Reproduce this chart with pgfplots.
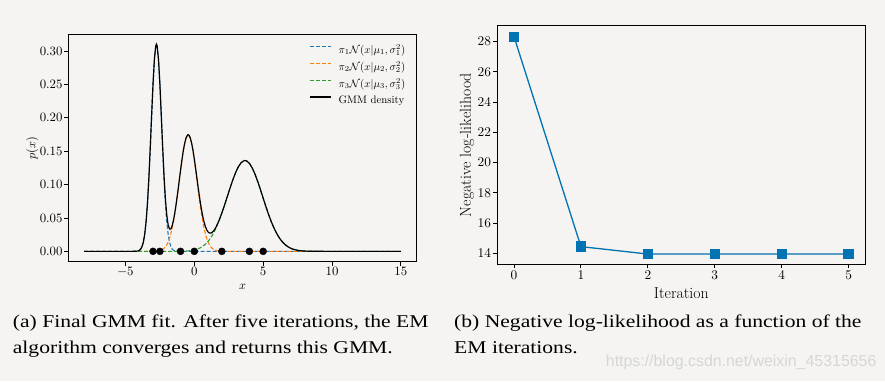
\documentclass[border=0pt]{standalone}
\usepackage{pgfplots}
\pgfplotsset{compat=1.18}
\usepackage{fontspec}
\newfontfamily\capfont[FakeStretch=1.2]{Liberation Serif}
\newfontfamily\wmfont{Liberation Sans}
\definecolor{bg}{RGB}{245,244,242}
\definecolor{cA}{HTML}{1F77B4}
\definecolor{cB}{HTML}{FF7F0E}
\definecolor{cC}{HTML}{2CA02C}
\definecolor{nll}{HTML}{0173B2}
\definecolor{wm}{RGB}{214,214,214}
\begin{document}
\begin{tikzpicture}[x=1pt,y=1pt]
\fill[bg] (0,0) rectangle (885,381);
\useasboundingbox (0,0) rectangle (885,381);
% ---------- left panel ----------
\begin{axis}[
  at={(68.3pt,119.3pt)}, anchor=south west,
  scale only axis, width=348.4pt, height=227.7pt,
  xmin=-9.15, xmax=16.15, ymin=-0.0155, ymax=0.3255,
  xtick={-5,0,5,10,15},
  ytick={0,0.05,0.1,0.15,0.2,0.25,0.3},
  yticklabel style={/pgf/number format/.cd,fixed,fixed zerofill,precision=2},
  scaled y ticks=false,
  tick align=outside, tick pos=left, major tick length=4pt,
  every tick/.style={black,line width=0.9pt},
  axis line style={line width=1pt},
  ticklabel style={font=\fontsize{10}{12}\selectfont, scale=1.28, inner sep=1.2pt},
  label style={font=\fontsize{10}{12}\selectfont, scale=1.22},
  xlabel={$x$}, ylabel={$p(x)$},
  xlabel style={at={(axis description cs:0.5,-0.1098)},anchor=center},
  ylabel style={at={(axis description cs:-0.1033,0.5)},anchor=center},
  legend cell align=left,
  legend style={at={(rel axis cs:0.6917,0.955)}, anchor=north west, draw=none, fill=none,
    inner sep=0pt, row sep=6.6pt, column sep=7pt,
    font=\fontsize{10}{12}\selectfont,
    nodes={inner sep=0pt, scale=1.08}},
  legend image code/.code={\draw[#1] (0pt,3pt) -- (21pt,3pt);},
]
\addplot[cA, line width=1.1pt, dash pattern=on 4pt off 2pt] coordinates {
(-8,0) (-4.5,0) (-4.4,0.00003) (-4.3,0.00008) (-4.2,0.00022) (-4.1,0.00058) (-4.0,0.00142)
(-3.9,0.00324) (-3.8,0.00692) (-3.7,0.0138) (-3.6,0.0257) (-3.5,0.0446) (-3.4,0.0722)
(-3.3,0.1092) (-3.2,0.1542) (-3.1,0.2032) (-3.0,0.2499) (-2.9,0.2869) (-2.8,0.3073)
(-2.75,0.31) (-2.7,0.3073) (-2.6,0.2869) (-2.5,0.2499) (-2.4,0.2032) (-2.3,0.1542)
(-2.2,0.1092) (-2.1,0.0722) (-2.0,0.0446) (-1.9,0.0257) (-1.8,0.0138) (-1.7,0.00692)
(-1.6,0.00324) (-1.5,0.00142) (-1.4,0.00058) (-1.3,0.00022) (-1.2,0.00008) (-1.1,0.00003)
(-1.0,0) (15,0)};
\addlegendentry{$\pi_1\mathcal{N}(x|\mu_1,\sigma_1^2)$}
\addplot[cB, line width=1.1pt, dash pattern=on 4pt off 2pt] coordinates {
(-8,0) (-3.2,0) (-3.1,0.00004) (-3.0,0.00007) (-2.9,0.00013) (-2.8,0.00023) (-2.7,0.0004)
(-2.6,0.00068) (-2.5,0.00113) (-2.4,0.00182) (-2.3,0.00287) (-2.2,0.00442) (-2.1,0.00665)
(-2.0,0.00976) (-1.9,0.01398) (-1.8,0.01957) (-1.7,0.02672) (-1.6,0.03563) (-1.5,0.04639)
(-1.4,0.05896) (-1.3,0.07317) (-1.2,0.08864) (-1.1,0.10484) (-1.0,0.12107) (-0.9,0.13649)
(-0.8,0.15023) (-0.7,0.16144) (-0.6,0.16937) (-0.5,0.17348) (-0.45,0.174) (-0.4,0.17348)
(-0.3,0.16937) (-0.2,0.16144) (-0.1,0.15023) (0.0,0.13649) (0.1,0.12107) (0.2,0.10484)
(0.3,0.08864) (0.4,0.07317) (0.5,0.05896) (0.6,0.04639) (0.7,0.03563) (0.8,0.02672)
(0.9,0.01957) (1.0,0.01398) (1.1,0.00976) (1.2,0.00665) (1.3,0.00442) (1.4,0.00287)
(1.5,0.00182) (1.6,0.00113) (1.7,0.00068) (1.8,0.0004) (1.9,0.00023) (2.0,0.00013)
(2.1,0.00007) (2.2,0.00004) (2.3,0) (15,0)};
\addlegendentry{$\pi_2\mathcal{N}(x|\mu_2,\sigma_2^2)$}
\addplot[cC, line width=1.1pt, dash pattern=on 4pt off 2pt] coordinates {
(-8,0) (-2.0,0) (-1.5,0.00004) (-1.0,0.00016) (-0.5,0.00064) (-0.4,0.00082) (-0.3,0.00105)
(-0.2,0.00134) (-0.1,0.0017) (0.0,0.00213) (0.1,0.00267) (0.2,0.00331) (0.3,0.00409)
(0.4,0.00502) (0.5,0.00611) (0.6,0.00741) (0.7,0.00892) (0.8,0.01068) (0.9,0.01271)
(1.0,0.01502) (1.1,0.01765) (1.2,0.02061) (1.3,0.02393) (1.4,0.0276) (1.5,0.03166)
(1.6,0.03608) (1.8,0.04599) (2.0,0.05722) (2.2,0.06946) (2.4,0.08227) (2.6,0.09509)
(2.8,0.10724) (3.0,0.11802) (3.2,0.12672) (3.4,0.13277) (3.6,0.13573) (3.68,0.136)
(3.8,0.1354) (4.0,0.13179) (4.2,0.12517) (4.4,0.11601) (4.6,0.1049) (4.8,0.09256)
(5.0,0.07969) (5.2,0.06695) (5.4,0.05488) (5.6,0.0439) (5.8,0.03426) (6.0,0.02609)
(6.2,0.01939) (6.4,0.01406) (6.6,0.00995) (6.8,0.00687) (7.0,0.00463) (7.2,0.00304)
(7.4,0.00195) (7.6,0.00122) (7.8,0.00075) (8.0,0.00044) (8.5,0.00011) (9.0,0.00002)
(9.5,0) (15,0)};
\addlegendentry{$\pi_3\mathcal{N}(x|\mu_3,\sigma_3^2)$}
\addplot[black, line width=1.2pt] coordinates {
(-8,0) (-4.5,0) (-4.4,0.00003) (-4.3,0.00008) (-4.2,0.00022) (-4.1,0.00058) (-4.0,0.00142)
(-3.9,0.00324) (-3.8,0.00692) (-3.7,0.0138) (-3.6,0.0257) (-3.5,0.0446) (-3.4,0.0722)
(-3.3,0.1092) (-3.2,0.1542) (-3.1,0.2032) (-3.0,0.25) (-2.9,0.287) (-2.8,0.3075)
(-2.75,0.3103) (-2.7,0.3077) (-2.6,0.2876) (-2.5,0.251) (-2.4,0.205) (-2.3,0.1571)
(-2.2,0.1136) (-2.1,0.0789) (-2.0,0.0544) (-1.9,0.0397) (-1.8,0.0334) (-1.7,0.0336)
(-1.6,0.0389) (-1.5,0.0478) (-1.4,0.0595) (-1.3,0.0734) (-1.2,0.0887) (-1.1,0.1049)
(-1.0,0.1212) (-0.9,0.1367) (-0.8,0.1505) (-0.7,0.1618) (-0.6,0.1699) (-0.5,0.1741)
(-0.45,0.1747) (-0.4,0.1743) (-0.3,0.1704) (-0.2,0.1628) (-0.1,0.1519) (0.0,0.1386)
(0.1,0.1237) (0.2,0.1082) (0.3,0.0927) (0.4,0.0782) (0.5,0.0651) (0.6,0.0538)
(0.7,0.0446) (0.8,0.0374) (0.9,0.0323) (1.0,0.029) (1.1,0.0274) (1.2,0.0273)
(1.3,0.0284) (1.4,0.0305) (1.5,0.0335) (1.6,0.0372) (1.8,0.0464) (2.0,0.0574)
(2.2,0.0695) (2.4,0.08227) (2.6,0.09509) (2.8,0.10724) (3.0,0.11802) (3.2,0.12672)
(3.4,0.13277) (3.6,0.13573) (3.68,0.136) (3.8,0.1354) (4.0,0.13179) (4.2,0.12517)
(4.4,0.11601) (4.6,0.1049) (4.8,0.09256) (5.0,0.07969) (5.2,0.06695) (5.4,0.05488)
(5.6,0.0439) (5.8,0.03426) (6.0,0.02609) (6.2,0.01939) (6.4,0.01406) (6.6,0.00995)
(6.8,0.00687) (7.0,0.00463) (7.2,0.00304) (7.4,0.00195) (7.6,0.00122) (7.8,0.00075)
(8.0,0.00044) (8.5,0.00011) (9.0,0.00002) (9.5,0) (15,0)};
\addlegendentry{GMM density}
\addplot[only marks, mark=*, mark size=3.5pt, black, forget plot] coordinates {
(-3,0) (-2.5,0) (-1,0) (0,0) (2,0) (4,0) (5,0)};
\end{axis}
% ---------- right panel ----------
\begin{axis}[
  at={(497.3pt,116.7pt)}, anchor=south west,
  scale only axis, width=368pt, height=238.3pt,
  xmin=-0.25, xmax=5.25, ymin=13.27, ymax=29.04,
  xtick={0,1,2,3,4,5},
  ytick={14,16,18,20,22,24,26,28},
  tick align=outside, tick pos=left, major tick length=4pt,
  every tick/.style={black,line width=0.9pt},
  axis line style={line width=1pt},
  ticklabel style={font=\fontsize{10}{12}\selectfont, scale=1.33, inner sep=1.5pt},
  label style={font=\fontsize{15.8}{15.8}\selectfont},
  xlabel={Iteration}, ylabel={Negative log-likelihood},
  xlabel style={at={(axis description cs:0.5,-0.1192)},anchor=center},
  ylabel style={at={(axis description cs:-0.0823,0.5)},anchor=center},
]
\addplot[nll, line width=1.3pt, mark=square*, mark size=4.5pt, mark options={solid,fill=nll}] coordinates {
(0,28.33) (1,14.44) (2,13.95) (3,13.95) (4,13.95) (5,13.95)};
\end{axis}
% ---------- captions ----------
\node[anchor=base west, inner sep=0pt] at (12.7,53.7) {\capfont\fontsize{18}{18}\selectfont (a) Final GMM fit. After five iterations, the EM};
\node[anchor=base west, inner sep=0pt] at (12.7,27.5) {\capfont\fontsize{18}{18}\selectfont algorithm converges and returns this GMM.};
\node[anchor=base west, inner sep=0pt] at (454,53.7) {\capfont\fontsize{18}{18}\selectfont (b) Negative log-likelihood as a function of the};
\node[anchor=base west, inner sep=0pt] at (454,27.5) {\capfont\fontsize{18}{18}\selectfont EM iterations.};
\node[anchor=base west, inner sep=0pt, text=wm] at (605.7,14.3) {\wmfont\fontsize{15.9}{15.9}\selectfont https://blog.csdn.net/weixin\_45315656};
\end{tikzpicture}
\end{document}
